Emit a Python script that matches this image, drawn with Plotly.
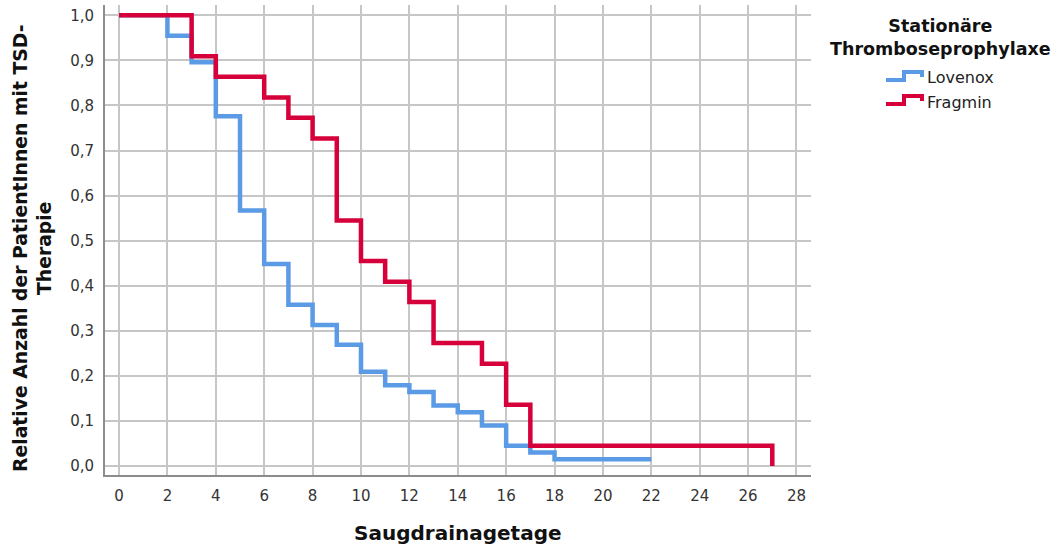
import plotly.graph_objects as go

# Kaplan-Meier style step curves: days with suction drain vs. relative share of patients
lovenox_days = [0, 2, 3, 4, 5, 6, 7, 8, 9, 10, 11, 12, 13, 14, 15, 16, 17, 18, 22]
lovenox_share = [1.0, 0.955, 0.896, 0.776, 0.567, 0.448, 0.358, 0.313, 0.269,
                 0.209, 0.179, 0.164, 0.134, 0.119, 0.090, 0.045, 0.030, 0.015, 0.015]

fragmin_days = [0, 3, 4, 6, 7, 8, 9, 10, 11, 12, 13, 15, 16, 17, 27, 27]
fragmin_share = [1.0, 0.909, 0.864, 0.818, 0.773, 0.727, 0.545, 0.455, 0.409,
                 0.364, 0.273, 0.227, 0.136, 0.045, 0.045, 0.0]

x_ticks = list(range(0, 29, 2))
y_ticks = [round(i * 0.1, 1) for i in range(11)]

BLUE = "#5b9be6"
RED = "#d6003a"
FONT = "DejaVu Sans"

# plot-area geometry in pixels
W, H = 1060, 546
L, R, T, B = 105, 811, 5, 475


def px_x(px):
    return (px - L) / (R - L)


def px_y(py):
    return (B - py) / (B - T)


fig = go.Figure()
fig.add_trace(go.Scatter(x=lovenox_days, y=lovenox_share, mode="lines",
                         line=dict(color=BLUE, width=4.5, shape="hv"),
                         name="Lovenox", showlegend=False))
fig.add_trace(go.Scatter(x=fragmin_days, y=fragmin_share, mode="lines",
                         line=dict(color=RED, width=4.5, shape="hv"),
                         name="Fragmin", showlegend=False))

# legend: title, step icons and labels
shapes = []
annotations = [
    dict(text="<b>Stationäre<br>Thromboseprophylaxe</b>", xref="paper", yref="paper",
         x=px_x(940), y=px_y(37.5), xanchor="center", yanchor="middle",
         showarrow=False, align="center", font=dict(family=FONT, size=17.5, color="#111")),
]
for name, color, y0 in [("Lovenox", BLUE, 80), ("Fragmin", RED, 104)]:
    path = (f"M {px_x(886)},{px_y(y0)} L {px_x(904)},{px_y(y0)} "
            f"L {px_x(904)},{px_y(y0 - 8)} L {px_x(922)},{px_y(y0 - 8)} "
            f"L {px_x(922)},{px_y(y0 - 3)}")
    shapes.append(dict(type="path", path=path, xref="paper", yref="paper",
                       line=dict(color=color, width=4)))
    annotations.append(dict(text=name, xref="paper", yref="paper",
                            x=px_x(925), y=px_y(y0 - 2), xanchor="left", yanchor="middle",
                            showarrow=False, font=dict(family=FONT, size=16, color="#222")))

# axis titles
annotations.append(dict(text="<b>Saugdrainagetage</b>", xref="paper", yref="paper",
                        x=px_x(458), y=px_y(533), xanchor="center", yanchor="middle",
                        showarrow=False, font=dict(family=FONT, size=20, color="#111")))
annotations.append(dict(text="<b>Relative Anzahl der PatientInnen mit TSD-<br>Therapie</b>",
                        xref="paper", yref="paper", x=px_x(32), y=px_y(248),
                        xanchor="center", yanchor="middle", textangle=-90,
                        showarrow=False, align="center",
                        font=dict(family=FONT, size=18.8, color="#111")))

fig.update_layout(
    width=W, height=H,
    margin=dict(l=L, r=W - R, t=T, b=H - B),
    paper_bgcolor="white", plot_bgcolor="white",
    separators=",.",
    shapes=shapes, annotations=annotations,
    showlegend=False,
)
fig.update_xaxes(range=[-0.58, 28.6], tickvals=x_ticks, showgrid=True,
                 gridcolor="#c6c6c6", gridwidth=1.5, zeroline=False,
                 showline=True, linecolor="#8c8c8c", linewidth=2,
                 ticks="", ticklabelstandoff=6,
                 tickfont=dict(family=FONT, size=15, color="#333"))
fig.update_yaxes(range=[-0.02, 1.023], tickvals=y_ticks, tickformat=".1f",
                 showgrid=True, gridcolor="#c6c6c6", gridwidth=1.5, zeroline=False,
                 showline=True, linecolor="#8c8c8c", linewidth=2,
                 ticks="", ticklabelstandoff=6,
                 tickfont=dict(family=FONT, size=15, color="#333"))

fig.write_html("out.html")
